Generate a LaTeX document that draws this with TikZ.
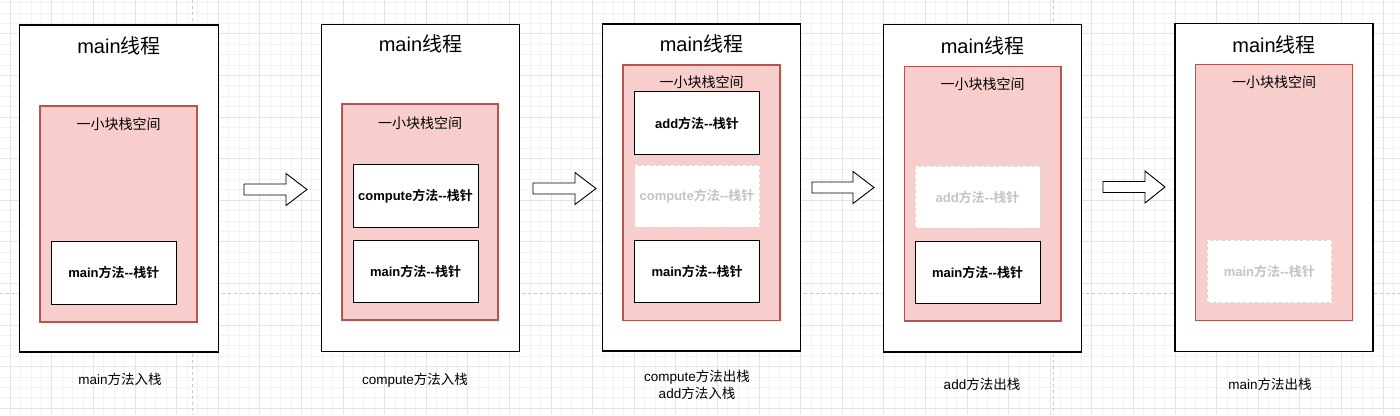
\documentclass[tikz,border=0pt]{standalone}
\usepackage{fontspec}
\setmainfont{Liberation Sans}
\newfontfamily\cjk{Noto Sans CJK SC}[BoldFont={Noto Sans CJK SC Bold}]
\newcommand\zh[1]{{\cjk #1}}
\definecolor{pinkfill}{HTML}{F8CECC}
\definecolor{pinkline}{HTML}{B85450}
\definecolor{gridminor}{HTML}{F2F2F2}
\definecolor{gridmajor}{HTML}{E4E4E4}
\definecolor{pagebreak}{HTML}{C8C8C8}
\definecolor{ghostline}{HTML}{D6D6D6}
\definecolor{ghosttext}{HTML}{C4C4C4}
\tikzset{
  threadbox/.style={draw=black, line width=1.8pt, fill=white, inner sep=0pt},
  stackbox/.style={draw=pinkline, line width=1.3pt, fill=pinkfill, inner sep=0pt},
  framebox/.style={draw=black, line width=0.9pt, fill=white, inner sep=0pt, font=\fontsize{13}{15}\selectfont\bfseries},
  ghostbox/.style={draw=ghostline, line width=1pt, dash pattern=on 3pt off 3pt, fill=white, inner sep=0pt, text=ghosttext, font=\fontsize{13}{15}\selectfont\bfseries},
  titletext/.style={font=\fontsize{20}{24}\selectfont, inner sep=0pt},
  stacktext/.style={font=\fontsize{14}{17}\selectfont, inner sep=0pt},
  captiontext/.style={font=\fontsize{13.5}{17}\selectfont, inner sep=0pt, align=center},
  blockarrow/.style={draw=black, line width=0.9pt, fill=white, line join=miter},
}
\newcommand\flowarrow[4]{%
  \draw[blockarrow] (#1,#4-5.5) -- (#2,#4-5.5) -- (#2,#4-16) -- (#3,#4) -- (#2,#4+16) -- (#2,#4+5.5) -- (#1,#4+5.5) -- cycle;}
\newcommand\framelabel[1]{#1\zh{方法}-{}-\zh{栈针}}
\begin{document}
\begin{tikzpicture}[x=1pt,y=-1pt]
\useasboundingbox (0,0) rectangle (1400,415);
% background grid
\begin{scope}
\clip (0,0) rectangle (1400,415);
\foreach \i in {0,...,137} {\draw[gridminor, line width=0.6pt] ({10.1+10.4*(\i-1)},0) -- ({10.1+10.4*(\i-1)},415);}
\foreach \j in {0,...,42} {\draw[gridminor, line width=0.6pt] (0,{33.7+10.4*(\j-4)}) -- (1400,{33.7+10.4*(\j-4)});}
\foreach \k in {0,...,33} {\draw[gridmajor, line width=0.7pt] ({10.1+41.6*\k},0) -- ({10.1+41.6*\k},415);}
\foreach \k in {-1,...,9} {\draw[gridmajor, line width=0.7pt] (0,{33.7+41.6*\k}) -- (1400,{33.7+41.6*\k});}
\draw[pagebreak, line width=0.8pt, dash pattern=on 3pt off 3pt] (0,293) -- (1400,293);
\draw[pagebreak, line width=0.8pt, dash pattern=on 3pt off 3pt] (192,0) -- (192,415);
\draw[pagebreak, line width=0.8pt, dash pattern=on 3pt off 3pt] (1053,0) -- (1053,415);
\end{scope}

% ---- step 1
\node[threadbox, minimum width=199, minimum height=327] (t1) at (119,188.5) {};
\node[stackbox, minimum width=157, minimum height=216] (s1) at (118.5,214) {};
\node[framebox, minimum width=125.5, minimum height=63] (f1main) at (113.75,272.5) {\framelabel{main}};
\node[titletext] (h1) at (119,46) {main\zh{线程}};
\node[stacktext] (l1) at (118.5,124) {\zh{一小块栈空间}};
\node[captiontext] (c1) at (120,379) {main\zh{方法入栈}};

% ---- step 2
\node[threadbox, minimum width=198, minimum height=327] (t2) at (420.5,188) {};
\node[stackbox, minimum width=156, minimum height=216] (s2) at (420,212) {};
\node[framebox, minimum width=125, minimum height=62.5] (f2comp) at (415.5,195.75) {\framelabel{compute}};
\node[framebox, minimum width=125, minimum height=62.5] (f2main) at (415.5,271.25) {\framelabel{main}};
\node[titletext] (h2) at (420.5,44) {main\zh{线程}};
\node[stacktext] (l2) at (420,123) {\zh{一小块栈空间}};
\node[captiontext] (c2) at (415,380) {compute\zh{方法入栈}};

% ---- step 3
\node[threadbox, minimum width=198, minimum height=327] (t3) at (701.5,187.5) {};
\node[stackbox, minimum width=157, minimum height=255.5] (s3) at (701.5,192.75) {};
\node[framebox, minimum width=125, minimum height=63] (f3add) at (697,123) {\framelabel{add}};
\node[ghostbox, minimum width=125, minimum height=62] (f3comp) at (697,196) {\framelabel{compute}};
\node[framebox, minimum width=125, minimum height=62.5] (f3main) at (697,271.25) {\framelabel{main}};
\node[titletext] (h3) at (701.5,44) {main\zh{线程}};
\node[stacktext] (l3) at (701.5,82) {\zh{一小块栈空间}};
\node[captiontext] (c3) at (697,384.5) {compute\zh{方法出栈}\\add\zh{方法入栈}};

% ---- step 4
\node[threadbox, minimum width=198, minimum height=327.5] (t4) at (982.5,188.25) {};
\node[stackbox, minimum width=156.5, minimum height=254.5] (s4) at (982.75,193.75) {};
\node[ghostbox, minimum width=125, minimum height=62] (f4add) at (977.5,197) {\framelabel{add}};
\node[framebox, minimum width=125, minimum height=62.5] (f4main) at (977.5,272.25) {\framelabel{main}};
\node[titletext] (h4) at (982.5,46) {main\zh{线程}};
\node[stacktext] (l4) at (982.5,84) {\zh{一小块栈空间}};
\node[captiontext] (c4) at (982,384) {add\zh{方法出栈}};

% ---- step 5
\node[threadbox, minimum width=198, minimum height=328] (t5) at (1274,187.5) {};
\node[stackbox, minimum width=157, minimum height=256] (s5) at (1274,192.5) {};
\node[ghostbox, minimum width=124.5, minimum height=62.5] (f5main) at (1269.25,271.25) {\framelabel{main}};
\node[titletext] (h5) at (1274,45) {main\zh{线程}};
\node[stacktext] (l5) at (1274,82) {\zh{一小块栈空间}};
\node[captiontext] (c5) at (1270,384) {main\zh{方法出栈}};

% ---- arrows
\flowarrow{244}{286}{307}{189.5}
\flowarrow{533}{575}{596}{188.5}
\flowarrow{812}{853}{874}{187.5}
\flowarrow{1103}{1145}{1165}{187}
\end{tikzpicture}
\end{document}
